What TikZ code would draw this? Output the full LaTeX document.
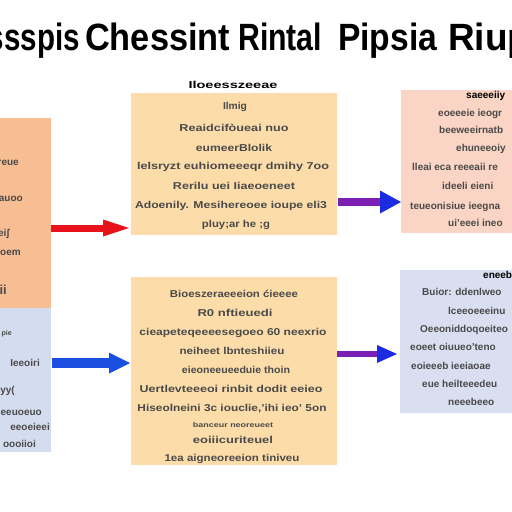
\documentclass[tikz,border=0pt]{standalone}
\usepackage{fontspec}
\setmainfont{Liberation Sans}
\usetikzlibrary{arrows.meta}
\definecolor{cOr}{HTML}{F8BE93}
\definecolor{cBl}{HTML}{D4DCEF}
\definecolor{cPe}{HTML}{FCDCA8}
\definecolor{cPk}{HTML}{FAD4C4}
\definecolor{cBr}{HTML}{D9DEF0}
\definecolor{cTx}{HTML}{4A4A4A}
\definecolor{cRd}{HTML}{E8121C}
\definecolor{cBa}{HTML}{1B4FE2}
\definecolor{cPu}{HTML}{7B1FB5}
\definecolor{cBt}{HTML}{1A2BE0}
\newcommand\wl[2]{\resizebox{#1pt}{\height}{#2}}
\begin{document}
\begin{tikzpicture}[x=1pt,y=-1pt,
  box/.style={inner sep=0pt, outer sep=0pt, anchor=north west},
  txt/.style={font=\fontsize{10}{12}\selectfont\bfseries, text=cTx, inner sep=0pt, anchor=base},
  txw/.style={txt, anchor=base west},
  txe/.style={txt, anchor=base east},
  ttl/.style={font=\fontsize{38}{40}\selectfont\bfseries, text=black, inner sep=0pt, anchor=base west}]
\useasboundingbox (0,0) rectangle (512,512);
\clip (0,0) rectangle (512,512);
\fill[white] (0,0) rectangle (512,512);

% title
\node[ttl, anchor=base east] (t1) at (80,50) {\wl{92}{ssspis}};
\node[ttl] (t2) at (85,50) {\wl{145}{Chessint}};
\node[ttl] (t3) at (238,50) {\wl{84}{Rintal}};
\node[ttl] (t4) at (338,50) {\wl{99}{Pipsia}};
\node[ttl] (t5) at (448,50) {\wl{82}{Riup}};

% boxes
\node[box, fill=cOr, minimum width=111pt, minimum height=190pt] (lt) at (-60,118) {};
\node[box, fill=cBl, minimum width=111pt, minimum height=144pt] (lb) at (-60,308) {};
\node[box, fill=cPe, minimum width=206pt, minimum height=142pt] (mt) at (131,93) {};
\node[box, fill=cPe, minimum width=206pt, minimum height=188pt] (mb) at (131,277) {};
\node[box, fill=cPk, minimum width=200pt, minimum height=143pt] (rt) at (401,90) {};
\node[box, fill=cBr, minimum width=200pt, minimum height=143pt] (rb) at (400,270) {};

% middle top title and text
\node[txt, text=black] (mth) at (233,88.5) {\wl{89}{Iloeesszeeae}};
\node[txt] (m1) at (235,109.5) {\wl{24}{Ilmig}};
\node[txt] (m2) at (234,131.5) {\wl{109}{Reaidcifòueai nuo}};
\node[txt] (m3) at (234,151.5) {\wl{76}{eumeerBlolik}};
\node[txt] (m4) at (233,169.5) {\wl{192}{lelsryzt euhiomeeeqr dmihy 7oo}};
\node[txt] (m5) at (234,189.5) {\wl{122}{Rerilu uei Iiaeoeneet}};
\node[txt] (m6) at (231,208.5) {\wl{192}{Adoenily. Mesihereoee ioupe eli3}};
\node[txt] (m7) at (236,227.5) {\wl{68}{pluy;ar he ;g}};

% middle bottom text
\node[txt] (n1) at (234,297.5) {\wl{128}{Bioeszeraeeeion ćieeee}};
\node[txt] (n2) at (235,316.5) {\wl{75}{R0 nftieuedi}};
\node[txt] (n3) at (233,335.5) {\wl{187}{cieapeteqeeeesegoeo 60 neexrio}};
\node[txt] (n4) at (232,354.5) {\wl{105}{neiheet lbnteshiieu}};
\node[txt] (n5) at (236,373.5) {\wl{108}{eieoneeueeduie thoin}};
\node[txt] (n6) at (231,392.5) {\wl{183}{Uertlevteeeoi rinbit dodit eeieo}};
\node[txt] (n7) at (232,411.5) {\wl{189}{Hiseolneini 3c iouclie,'ihi ieo' 5on}};
\node[txt, font=\fontsize{7}{8}\selectfont\bfseries] (n8) at (233,427.5) {\wl{80}{banceur neoreueet}};
\node[txt] (n9) at (233,443.5) {\wl{80}{eoiiicuriteuel}};
\node[txt] (n10) at (232,461.5) {\wl{135}{1ea aigneoreeion tiniveu}};

% left top text
\node[txe] (a1) at (19,165.5) {rreue};
\node[txe] (a2) at (23,201.5) {eauoo};
\node[txe] (a3) at (10,236.5) {eiʃ};
\node[txe] (a4) at (21,255.5) {ooem};
\node[txe, font=\fontsize{13}{14}\selectfont\bfseries] (a5) at (7,294.5) {ii};

% left bottom text
\node[txe, font=\fontsize{7}{8}\selectfont\bfseries] (b1) at (12,335.5) {e pie};
\node[txe] (b2) at (40,366.5) {Ieeoiri};
\node[txe] (b3) at (15,393.5) {yy(};
\node[txe] (b4) at (42,415.5) {eeuoeuo};
\node[txe] (b5) at (50,430.5) {eeoeieei};
\node[txe] (b6) at (36,447.5) {oooiioi};

% right top text
\node[txw, text=black] (r1) at (466,98.5) {saeeeiiy};
\node[txw] (r2) at (438,116.5) {eoeeeie ieogr};
\node[txw] (r3) at (439,133.5) {beeweeirnatb};
\node[txw] (r4) at (456,151.5) {ehuneeoiy};
\node[txw] (r5) at (412,170.5) {lleai eca reeeaii re};
\node[txw] (r6) at (442,189.5) {ideeli eieni};
\node[txw] (r7) at (410,209.5) {teueonisiue ieegna};
\node[txw] (r8) at (448,226.5) {ui'eeei ineo};

% right bottom text
\node[txw, text=black] (s1) at (483,278.5) {eneeb};
\node[txw] (s2) at (422,295.5) {Buior: ddenlweo};
\node[txw] (s3) at (448,314.5) {lceeoeeeinu};
\node[txw] (s4) at (420,332.5) {Oeeoniddoqoeiteo};
\node[txw] (s5) at (410,350.5) {eoeet oiuueo'teno};
\node[txw] (s6) at (411,369.5) {eoieeeb ieeiaoae};
\node[txw] (s7) at (422,387.5) {eue heilteeedeu};
\node[txw] (s8) at (448,405.5) {neeebeeo};

% arrows
\coordinate (y1) at (0,228);
\coordinate (y2) at (0,363);
\coordinate (y3) at (0,202);
\coordinate (y4) at (0,354);
\draw[cRd, line width=7pt, shorten >=2pt, -{Triangle[length=26pt,width=17pt,line width=0pt]}] (lt.east |- y1) -- (mt.west |- y1);
\draw[cBa, line width=10pt, shorten <=1pt, shorten >=1pt, -{Triangle[length=21pt,width=21pt,line width=0pt]}] (lb.east |- y2) -- (mb.west |- y2);
\draw[cPu, line width=8pt, shorten <=1pt, -{Triangle[length=21pt,width=23pt,line width=0pt,color=cBt]}] (mt.east |- y3) -- (rt.west |- y3);
\draw[cPu, line width=6pt, shorten >=3pt, -{Triangle[length=20pt,width=18pt,line width=0pt,color=cBt]}] (mb.east |- y4) -- (rb.west |- y4);
\end{tikzpicture}
\end{document}
